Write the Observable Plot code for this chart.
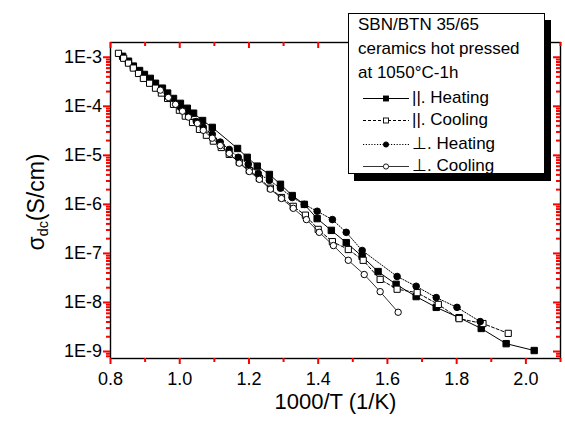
<!DOCTYPE html>
<html><head><meta charset="utf-8">
<script src="https://cdn.jsdelivr.net/npm/d3@7"></script>
<script src="https://cdn.jsdelivr.net/npm/@observablehq/plot@0.6"></script>
<style>
body{margin:0;background:#fff;}
#wrap{position:relative;width:565px;height:422px;font-family:"Liberation Sans",Arial,sans-serif;color:#000;}
#wrap > svg{position:absolute;left:0;top:0;}
#legend{position:absolute;left:348px;top:13px;width:197px;height:161px;border:1px solid #000;background:#fff;box-shadow:6px 7px 0 #000;box-sizing:border-box;}
.lt{position:absolute;left:9px;font-size:17px;line-height:24px;white-space:nowrap;}
#legend svg.ls{position:absolute;left:14px;}
.ltx{position:absolute;left:63px;font-size:17px;line-height:24px;white-space:nowrap;}
#ytitle{position:absolute;left:37px;top:202px;transform:translate(-50%,-50%) rotate(-90deg);font-size:23px;white-space:nowrap;}
#ytitle sub{font-size:0.62em;vertical-align:-0.3em;}
</style></head>
<body><div id="wrap"></div>
<script>
// ∥ Heating (filled squares)
const xParH = [0.835,0.852,0.866,0.884,0.898,0.915,0.930,0.950,0.965,0.982,1.002,1.022,1.040,1.066,1.094,1.167,1.195,1.224,1.259,1.291,1.325,1.360,1.397,1.438,1.481,1.527,1.573,1.625,1.683,1.741,1.807,1.871,1.943,2.024];
const logParH = [-2.98,-3.08,-3.18,-3.27,-3.35,-3.43,-3.53,-3.63,-3.73,-3.84,-3.94,-4.04,-4.14,-4.29,-4.43,-4.86,-5.04,-5.22,-5.39,-5.59,-5.82,-6.00,-6.29,-6.53,-6.78,-7.06,-7.37,-7.63,-7.88,-8.10,-8.31,-8.53,-8.84,-8.98];
// ∥ Cooling (open squares)
const xParC = [0.823,0.838,0.852,0.866,0.881,0.895,0.913,0.930,0.947,0.965,0.982,0.999,1.016,1.037,1.057,1.077,1.097,1.120,1.143,1.172,1.201,1.230,1.262,1.294,1.328,1.363,1.400,1.441,1.487,1.530,1.579,1.628,1.686,1.747,1.807,1.876,1.949];
const logParC = [-2.92,-3.02,-3.12,-3.22,-3.33,-3.43,-3.53,-3.63,-3.73,-3.84,-3.96,-4.08,-4.20,-4.33,-4.47,-4.59,-4.71,-4.84,-4.98,-5.14,-5.31,-5.47,-5.67,-5.86,-6.04,-6.22,-6.51,-6.76,-6.92,-7.14,-7.53,-7.73,-7.80,-8.04,-8.33,-8.43,-8.63];
// ⊥ Heating (filled circles)
const xPerpH = [1.002,1.025,1.048,1.068,1.094,1.117,1.143,1.169,1.198,1.227,1.259,1.291,1.325,1.360,1.397,1.441,1.481,1.527,1.628,1.683,1.741,1.801,1.868];
const logPerpH = [-4.02,-4.16,-4.31,-4.43,-4.57,-4.73,-4.88,-5.04,-5.18,-5.37,-5.51,-5.67,-5.86,-6.00,-6.14,-6.31,-6.57,-6.94,-7.47,-7.67,-7.90,-8.10,-8.39];
// ⊥ Cooling (open circles)
const xPerpC = [0.944,0.967,0.988,1.008,1.025,1.051,1.068,1.094,1.117,1.143,1.172,1.201,1.230,1.262,1.294,1.328,1.366,1.403,1.444,1.487,1.533,1.579,1.631];
const logPerpC = [-3.67,-3.82,-3.96,-4.10,-4.22,-4.35,-4.49,-4.65,-4.80,-4.96,-5.16,-5.33,-5.49,-5.69,-5.88,-6.08,-6.31,-6.57,-6.84,-7.14,-7.43,-7.78,-8.20];

const legendTitle = ["SBN/BTN 35/65", "ceramics hot pressed", "at 1050°C-1h"];
const legendLabels = ["||. Heating", "||. Cooling", "⊥. Heating", "⊥. Cooling"];
const xTitle = "1000/T (1/K)";
const xMajor = [0.8,1.0,1.2,1.4,1.6,1.8,2.0];
const xMinor = [0.9,1.1,1.3,1.5,1.7,1.9,2.1];
const yMajor = [1e-3,1e-4,1e-5,1e-6,1e-7,1e-8,1e-9];
const yMinor = [];
for (let e = -10; e <= -3; e++) for (let m = 2; m <= 9; m++) { const v = m * Math.pow(10, e); if (v > 7.2e-10 && v < 2.0e-3) yMinor.push(v); }

const rows = (xs, ls) => xs.map((x, i) => ({x, y: Math.pow(10, ls[i])}));
const dParH = rows(xParH, logParH), dParC = rows(xParC, logParC), dPerpH = rows(xPerpH, logPerpH), dPerpC = rows(xPerpC, logPerpC);

const styles = [
  {data: dParH, dash: null, sw: 1, symbol: "square", fill: "black", r: 3.6},
  {data: dParC, dash: "3,2", sw: 1, symbol: "square", fill: "white", r: 3.5},
  {data: dPerpH, dash: "1.2,1.6", sw: 1, symbol: "circle", fill: "black", r: 3.3},
  {data: dPerpC, dash: null, sw: 0.8, symbol: "circle", fill: "white", r: 3.2}
];

const W = 565, H = 422, ML = 110, MR = 5, MT = 42, MB = 64;
const FW = W - ML - MR, FH = H - MT - MB;
const TW = 2, TC = "red";

const marks = [Plot.frame({stroke: "black", strokeWidth: 1.4})];
for (const s of styles) {
  marks.push(Plot.line(s.data, {x: "x", y: "y", stroke: "black", strokeWidth: s.sw, strokeDasharray: s.dash}));
  marks.push(Plot.dot(s.data, {x: "x", y: "y", symbol: s.symbol, r: s.r, fill: s.fill, stroke: "black", strokeWidth: 1}));
}
const blank = () => "";
marks.push(
  Plot.axisX({ticks: xMajor, tickSize: 6, tickPadding: 8, stroke: TC, strokeWidth: TW, tickFormat: d3.format(".1f"), label: null, fontSize: 18}),
  Plot.axisX({ticks: xMinor, tickSize: 4, stroke: TC, strokeWidth: TW, tickFormat: blank, label: null}),
  Plot.tickX(xMajor, {x: d => d, stroke: TC, strokeWidth: TW, insetBottom: FH - 6}),
  Plot.tickX(xMinor, {x: d => d, stroke: TC, strokeWidth: TW, insetBottom: FH - 4}),
  Plot.axisY({ticks: yMajor, tickSize: 7, tickPadding: 1.5, stroke: TC, strokeWidth: TW, tickFormat: d => "1E" + Math.round(Math.log10(d)), label: null, fontSize: 18}),
  Plot.axisY({ticks: yMinor, tickSize: 4, stroke: TC, strokeWidth: TW, tickFormat: blank, label: null}),
  Plot.tickY(yMajor, {y: d => d, stroke: TC, strokeWidth: TW, insetLeft: FW - 7}),
  Plot.tickY(yMinor, {y: d => d, stroke: TC, strokeWidth: TW, insetLeft: FW - 4}),
  Plot.text([xTitle], {text: d => d, frameAnchor: "bottom", dy: 50, fontSize: 22})
);

const chart = Plot.plot({
  width: W, height: H,
  marginLeft: ML, marginRight: MR, marginTop: MT, marginBottom: MB,
  style: {fontFamily: "Liberation Sans, Arial, sans-serif", fontSize: "18px", background: "white", overflow: "visible"},
  x: {domain: [0.8, 2.1]},
  y: {type: "log", domain: [7.2e-10, 2.0e-3]},
  marks
});
const wrap = document.getElementById("wrap");
wrap.appendChild(chart);

const yt = document.createElement("div");
yt.id = "ytitle";
yt.innerHTML = "σ<sub>dc</sub>(S/cm)";
wrap.appendChild(yt);

const lg = document.createElement("div");
lg.id = "legend";
legendTitle.forEach((t, i) => {
  const d = document.createElement("div");
  d.className = "lt"; d.style.top = (-1 + i * 24) + "px"; d.textContent = t;
  lg.appendChild(d);
});
const entryTops = [72, 94, 118, 140];
styles.forEach((s, i) => {
  const top = entryTops[i];
  const ns = "http://www.w3.org/2000/svg";
  const sv = document.createElementNS(ns, "svg");
  sv.setAttribute("width", 46); sv.setAttribute("height", 24);
  sv.setAttribute("class", "ls"); sv.style.top = top + "px";
  const ln = document.createElementNS(ns, "line");
  ln.setAttribute("x1", 0); ln.setAttribute("x2", 46); ln.setAttribute("y1", 12.5); ln.setAttribute("y2", 12.5);
  ln.setAttribute("stroke", "black"); ln.setAttribute("stroke-width", s.sw);
  if (s.dash) ln.setAttribute("stroke-dasharray", s.dash);
  sv.appendChild(ln);
  let mk;
  if (s.symbol === "square") {
    mk = document.createElementNS(ns, "rect");
    mk.setAttribute("x", 20.5); mk.setAttribute("y", 10); mk.setAttribute("width", 5); mk.setAttribute("height", 5);
  } else {
    mk = document.createElementNS(ns, "circle");
    mk.setAttribute("cx", 23); mk.setAttribute("cy", 12.5); mk.setAttribute("r", 2.6);
  }
  mk.setAttribute("fill", s.fill); mk.setAttribute("stroke", "black"); mk.setAttribute("stroke-width", 0.9);
  sv.appendChild(mk);
  lg.appendChild(sv);
  const t = document.createElement("div");
  t.className = "ltx"; t.style.top = top + "px"; t.textContent = legendLabels[i];
  lg.appendChild(t);
});
wrap.appendChild(lg);
</script>
</body></html>
